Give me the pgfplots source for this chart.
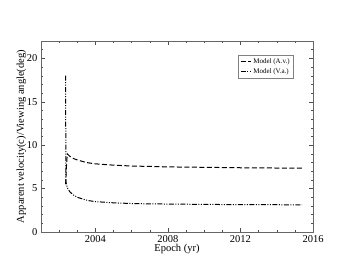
\documentclass[border=0pt]{standalone}
\usepackage{pgfplots}
\pgfplotsset{compat=1.18}
\usepackage{fontspec}
\setmainfont{Liberation Serif}
\begin{document}
\begin{tikzpicture}[x=1pt,y=1pt]
\useasboundingbox (-41,-41) rectangle (312,232);
\begin{axis}[
  at={(0,0)}, anchor=south west,
  scale only axis, width=272pt, height=191pt,
  xmin=2001, xmax=2016, ymin=0, ymax=22,
  xtick={2004,2008,2012,2016},
  minor xtick={2002,2003,2005,2006,2007,2009,2010,2011,2013,2014,2015},
  ytick={0,5,10,15,20},
  minor ytick={1,2,3,4,6,7,8,9,11,12,13,14,16,17,18,19,21},
  tick align=inside,
  major tick length=4pt, minor tick length=2pt,
  axis line style={gray!80!black},
  every tick/.style={gray!60!black},
  /pgf/number format/assume math mode=true,
  x tick label style={/pgf/number format/.cd, set thousands separator={}},
  tick label style={font=\fontsize{10.5}{12}\selectfont},
  xlabel={Epoch (yr)},
  ylabel={Apparent velocity(c)/Viewing angle(deg)},
  label style={font=\fontsize{10.5}{12}\selectfont},
  xlabel style={yshift=5pt},
  ylabel style={yshift=-6pt},
  legend style={at={(0.93,0.927)}, anchor=north east, draw=gray, line width=0.6pt,
     font=\fontsize{7}{8}\selectfont, inner xsep=2pt, inner ysep=1.5pt, row sep=-0.5pt},
  legend cell align=left,
  legend image code/.code={\draw[#1] (0pt,0pt) -- (10pt,0pt);},
]
\addplot[black, line width=1pt, dash pattern=on 5pt off 2.5pt] coordinates {
 (2002.36,5.5) (2002.40,7.5) (2002.45,9.0) (2002.6,8.7) (2002.8,8.45) (2003,8.3)
 (2003.5,8.0) (2004,7.85) (2005,7.7) (2006,7.6) (2007,7.55) (2008,7.5)
 (2010,7.45) (2012,7.4) (2014,7.37) (2015.4,7.36)};
\addlegendentry{Model (A.v.)}
\addplot[black, line width=1pt, dash pattern=on 5pt off 1.5pt on 1pt off 1.5pt on 1pt off 1.5pt] coordinates {
 (2002.36,18.0) (2002.37,5.8) (2002.45,5.1) (2002.6,4.6) (2002.8,4.25) (2003,4.0)
 (2003.3,3.8) (2003.6,3.62) (2004,3.5) (2005,3.36) (2006,3.28) (2007,3.24) (2008,3.22)
 (2010,3.18) (2012,3.15) (2014,3.14) (2015.4,3.13)};
\addlegendentry{Model (V.a.)}
\end{axis}
\end{tikzpicture}
\end{document}
